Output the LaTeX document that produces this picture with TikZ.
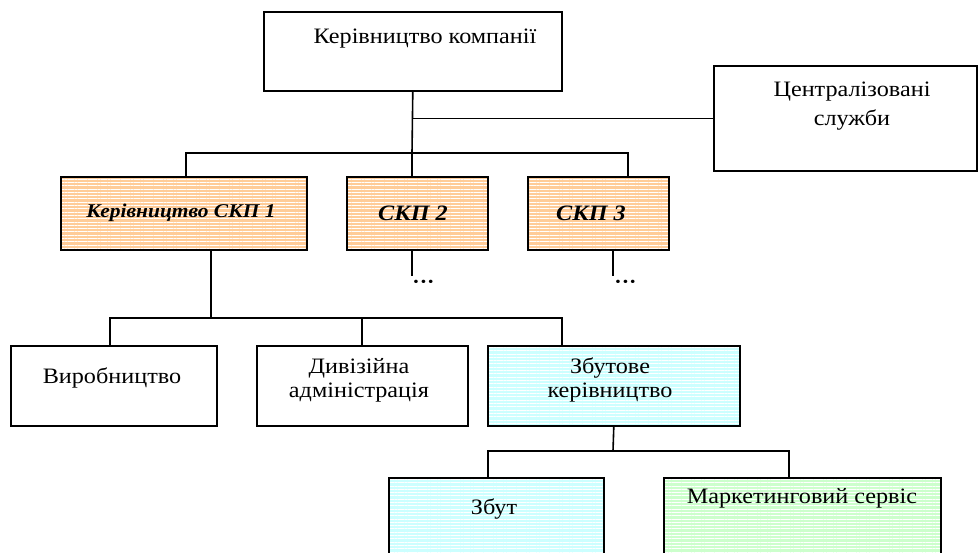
\documentclass[tikz,border=0pt]{standalone}
\usepackage{fontspec}
\setmainfont{Liberation Serif}[FakeStretch=1.1]
\usetikzlibrary{patterns.meta}
\definecolor{peach}{HTML}{FFCC99}
\definecolor{lcyan}{HTML}{CCFFFF}
\definecolor{lgreen}{HTML}{CCFFCC}
\tikzset{
  box/.style={draw=black, line width=1.6pt, rectangle, inner sep=0pt, anchor=north west},
  striped/.style={preaction={fill=#1}, preaction={pattern={Lines[angle=0,distance=3.3pt,line width=0.9pt]}, pattern color=white}},
  wire/.style={line width=1.6pt},
  lbl/.style={font=\fontsize{22}{24}\selectfont, align=center, inner sep=0pt},
  blbl/.style={font=\fontsize{22}{24}\selectfont\bfseries\itshape, align=center, inner sep=0pt},
  dotlbl/.style={font=\fontsize{14}{14}\selectfont, inner sep=0pt},
}
\begin{document}
\begin{tikzpicture}[x=1pt,y=-1pt]
\useasboundingbox (0,0) rectangle (978,552);
\clip (0,0) rectangle (978,552);
% boxes
\node[box, minimum width=298pt, minimum height=79pt] (top) at (263,11) {};
\node[box, minimum width=263pt, minimum height=105pt] (cs) at (713,65) {};
\node[box, striped=peach, minimum width=246pt, minimum height=73pt] (skp1) at (60,176) {};
\node[box, striped=peach, minimum width=141pt, minimum height=73pt] (skp2) at (346,176) {};
\node[box, striped=peach, minimum width=141pt, minimum height=73pt] (skp3) at (527,176) {};
\node[box, minimum width=206pt, minimum height=80pt] (vyr) at (10,345) {};
\node[box, minimum width=211pt, minimum height=80pt] (div) at (256,345) {};
\node[box, striped=lcyan, minimum width=252pt, minimum height=80pt] (zbk) at (487,345) {};
\node[box, striped=lcyan, minimum width=215pt, minimum height=95pt] (zbut) at (388,477) {};
\node[box, striped=lgreen, minimum width=277pt, minimum height=95pt] (mark) at (663,477) {};
% texts
\node[lbl] (ttop) at (425,39) {Керівництво компанії};
\node[lbl, font=\fontsize{22}{29}\selectfont] (tcs) at (852,106) {Централізовані\\служби};
\node[blbl, font=\fontsize{19.5}{22}\selectfont\bfseries\itshape] (tskp1) at (181,213) {Керівництво СКП 1};
\node[blbl] (tskp2) at (413,213) {СКП 2};
\node[blbl] (tskp3) at (591,213) {СКП 3};
\node[lbl] (tvyr) at (112,378) {Виробництво};
\node[lbl] (tdiv) at (359,380) {Дивізійна\\адміністрація};
\node[lbl] (tzbk) at (610,380) {Збутове\\керівництво};
\node[lbl] (tzbut) at (494,509) {Збут};
\node[lbl] (tmark) at (802,498) {Маркетинговий сервіс};
\node[dotlbl] (dots2) at (423.5,283) {•\kern2pt•\kern2pt•};
\node[dotlbl] (dots3) at (625.5,283) {•\kern2pt•\kern2pt•};
% connector points
\coordinate (busA) at (412,153);
\coordinate (d1) at (186,176);
\coordinate (d2) at (412,176);
\coordinate (d3) at (628,176);
\coordinate (u1) at (211,249);
\coordinate (busB) at (211,318);
\coordinate (e1) at (110,345);
\coordinate (e2) at (362,345);
\coordinate (e3) at (562,345);
\coordinate (u2) at (412,249);
\coordinate (f2) at (412,276);
\coordinate (u3) at (613,249);
\coordinate (f3) at (613,276);
\coordinate (busC) at (613,451);
\coordinate (g1) at (488,477);
\coordinate (g2) at (789,477);
% connectors
\draw[wire] (top.south) -- (busA);
\draw[wire] (top.south |- cs.west) -- (cs.west);
\draw[wire] (d1) |- (d3 |- busA) -- (d3);
\draw[wire] (busA) -- (d2);
\draw[wire] (u1) -- (busB);
\draw[wire] (e1) |- (e3 |- busB) -- (e3);
\draw[wire] (e2 |- busB) -- (e2);
\draw[wire] (u2) -- (f2);
\draw[wire] (u3) -- (f3);
\draw[wire] (zbk.south) -- (busC);
\draw[wire] (g1) |- (g2 |- busC) -- (g2);
\end{tikzpicture}
\end{document}
